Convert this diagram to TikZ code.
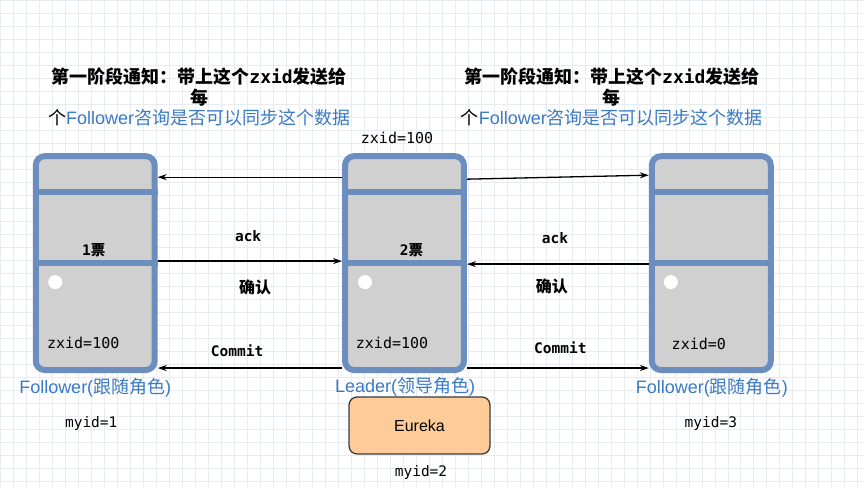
\documentclass[tikz,border=0pt]{standalone}
\usepackage{fontspec}
\setmainfont{Liberation Sans}
\setmonofont{DejaVu Sans Mono}
\newfontfamily\cjk{Noto Sans CJK SC}
\usetikzlibrary{arrows.meta, positioning, calc}
\definecolor{cSrv}{HTML}{6C8EBF}
\definecolor{cFill}{HTML}{D0D0D0}
\definecolor{cRole}{HTML}{3B7AC4}
\definecolor{cEur}{HTML}{FFCC99}
\definecolor{cEurLine}{HTML}{36393D}
\definecolor{cGrid}{HTML}{E8EBEF}

\begin{document}
\begin{tikzpicture}[x=1pt, y=-1pt, >={Stealth[length=9pt, width=6pt]},
  srv/.style={draw=cSrv, fill=cFill, line width=6pt, rounded corners=9pt,
    minimum width=119pt, minimum height=214pt, inner sep=0pt},
  sep/.style={draw=cSrv, line width=6pt},
  hole/.style={circle, fill=white, minimum size=14pt, inner sep=0pt},
  msg/.style={->, line width=1.3pt},
  lbl/.style={font=\ttfamily\bfseries\fontsize{14.5}{16}\selectfont, inner sep=1pt},
  idl/.style={font=\ttfamily\fontsize{14.5}{16}\selectfont, inner sep=1pt},
  val/.style={font=\ttfamily\fontsize{15}{17}\selectfont, inner sep=1pt},
  cn/.style={font=\cjk\bfseries\fontsize{16}{18}\selectfont, inner sep=1pt},
  role/.style={text=cRole, font=\fontsize{18}{20}\selectfont, inner sep=1pt},
  note/.style={align=center, font=\fontsize{18}{20.5}\selectfont, inner sep=0pt},
  eur/.style={draw=cEurLine, fill=cEur, line width=1.3pt, rounded corners=8pt,
    minimum width=141pt, minimum height=57pt, font=\fontsize{16}{18}\selectfont},
]

% canvas with the editor grid
\fill[white] (0,0) rectangle (864,488);
\draw[cGrid, line width=0.6pt, step=13pt] (0,0) grid (864,488);
\useasboundingbox (0,0) rectangle (864,488);

% the three servers
\node[srv] (f1) at (95,263) {};
\node[srv] (ld) at (404.5,263) {};
\node[srv] (f3) at (711.5,263) {};
\foreach \s in {f1,ld,f3} {
  \draw[sep] ([yshift=-38.5pt]\s.north west) -- ([yshift=-38.5pt]\s.north east);
  \draw[sep] (\s.west) -- (\s.east);
}
\node[hole] (h1) at (55,282) {};
\node[hole] (h2) at (365,282) {};
\node[hole] (h3) at (671,282) {};

% contents
\node[lbl] (v1) at (93.5,250) {1{\cjk 票}};
\node[lbl] (v2) at (411.5,250) {2{\cjk 票}};
\node[val] (z1) at (83,343) {zxid=100};
\node[val] (z2) at (392,343) {zxid=100};
\node[val] (z3) at (699,344) {zxid=0};
\node[val] (zt) at (397,138) {zxid=100};

% messages
\draw[msg] ([yshift=-24pt]ld.north west) -- ([yshift=-24pt]f1.north east);
\draw[msg] ([yshift=-26pt]ld.north east) -- ([yshift=-22pt]f3.north west);
\draw[msg] ([yshift=2pt]f1.east) -- ([yshift=2pt]ld.west);
\draw[msg] ([yshift=-1pt]f3.west) -- ([yshift=-1pt]ld.east);
\draw[msg] ([yshift=5pt]ld.south west) -- ([yshift=5pt]f1.south east);
\draw[msg] ([yshift=5pt]ld.south east) -- ([yshift=5pt]f3.south west);

\node[lbl] (ack1) at (248,236) {ack};
\node[cn]  (ok1)  at (255,287) {确认};
\node[lbl] (cm1)  at (237,351) {Commit};
\node[lbl] (ack3) at (555,238) {ack};
\node[cn]  (ok3)  at (552,286) {确认};
\node[lbl] (cm3)  at (560.5,348) {Commit};

% phase-one notes
\node[note] (n1) at (199,97) {{\cjk\bfseries 第一阶段通知：带上这个}\texttt{\bfseries zxid}{\cjk\bfseries 发送给}\\
  {\cjk\bfseries 每}\\
  {\cjk 个}\textcolor{cRole}{Follower{\cjk 咨询是否可以同步这个数据}}};
\node[note] (n3) at (612,97) {{\cjk\bfseries 第一阶段通知：带上这个}\texttt{\bfseries zxid}{\cjk\bfseries 发送给}\\
  {\cjk\bfseries 每}\\
  {\cjk 个}\textcolor{cRole}{Follower{\cjk 咨询是否可以同步这个数据}}};

% roles and ids
\node[role] (r1) at (95,388) {Follower({\cjk 跟随角色})};
\node[role] (r2) at (405,387) {Leader({\cjk 领导角色})};
\node[role] (r3) at (712,388) {Follower({\cjk 跟随角色})};
\node[eur] (eu) at (419.5,425.5) {Eureka};
\node[idl] (m1) at (91,423) {myid=1};
\node[idl] (m2) at (421,473) {myid=2};
\node[idl] (m3) at (711,423) {myid=3};

\end{tikzpicture}
\end{document}
